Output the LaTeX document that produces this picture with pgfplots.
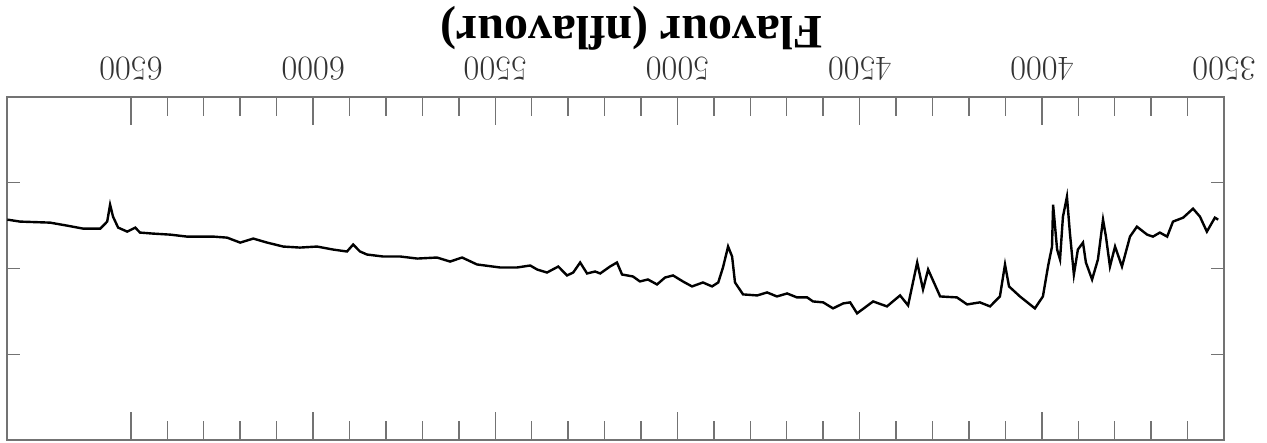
\documentclass[border=0pt]{standalone}
\usepackage{fontspec}
\newfontfamily\titlefont{Liberation Serif}
\usepackage{pgfplots}
\pgfplotsset{compat=1.18}
\begin{document}
\begin{tikzpicture}
\begin{axis}[
  scale only axis,
  width=608.5pt, height=171.5pt,
  xmin=3500, xmax=6840, ymin=0, ymax=4,
  x dir=reverse, y dir=reverse,
  xtick={3500,4000,4500,5000,5500,6000,6500},
  minor x tick num=4,
  ytick=\empty,
  extra y ticks={1,2,3}, extra y tick labels={},
  extra y tick style={major tick length=6.5pt},
  tick align=inside,
  major tick length=14pt, minor tick length=9.5pt,
  xticklabel pos=right,
  axis line style={black!55, line width=0.7pt},
  every tick/.style={black!55, line width=0.7pt},
  xticklabel style={yshift=5pt, rotate=180, anchor=north, text=black!80,
    font=\fontsize{19}{22}\selectfont},
  /pgf/number format/1000 sep={},
  xlabel={\titlefont\bfseries Flavour (nflavour)},
  xlabel style={yshift=-3pt, xshift=8pt, rotate=180, anchor=north,
    font=\fontsize{24}{27}\selectfont},
  clip=false,
]
\addplot[black, line width=1.2pt] coordinates {
(6839,1.430) (6804,1.453) (6722,1.465) (6675,1.500) (6631,1.535) (6584,1.535)
(6565,1.453) (6557,1.256) (6549,1.395) (6535,1.523) (6510,1.570) (6488,1.523)
(6475,1.581) (6439,1.593) (6392,1.605) (6346,1.628) (6274,1.628) (6236,1.640)
(6200,1.698) (6164,1.651) (6126,1.698) (6082,1.744) (6036,1.756) (5989,1.744)
(5945,1.779) (5907,1.802) (5890,1.721) (5871,1.802) (5852,1.837) (5808,1.860)
(5761,1.860) (5714,1.884) (5660,1.872) (5624,1.919) (5591,1.872) (5550,1.953)
(5487,1.988) (5440,1.988) (5404,1.965) (5385,2.012) (5358,2.047) (5327,1.977)
(5303,2.081) (5286,2.047) (5267,1.930) (5248,2.058) (5226,2.035) (5212,2.058)
(5185,1.977) (5166,1.930) (5152,2.070) (5122,2.093) (5103,2.151) (5081,2.128)
(5056,2.186) (5034,2.105) (5012,2.081) (4985,2.151) (4960,2.209) (4930,2.163)
(4905,2.209) (4888,2.163) (4875,1.988) (4861,1.744) (4850,1.860) (4842,2.163)
(4820,2.302) (4781,2.314) (4754,2.279) (4727,2.326) (4699,2.291) (4672,2.337)
(4644,2.337) (4628,2.384) (4600,2.395) (4573,2.465) (4545,2.407) (4526,2.395)
(4507,2.523) (4463,2.384) (4425,2.442) (4389,2.314) (4367,2.430) (4342,1.930)
(4326,2.244) (4312,2.012) (4279,2.326) (4233,2.337) (4205,2.419) (4170,2.395)
(4142,2.442) (4115,2.326) (4101,1.953) (4090,2.209) (4060,2.326) (4019,2.465)
(3997,2.326) (3983,1.977) (3972,1.744) (3969,1.256) (3958,1.779) (3950,1.895)
(3942,1.395) (3931,1.163) (3923,1.581) (3912,2.070) (3901,1.779) (3887,1.698)
(3879,1.930) (3862,2.128) (3846,1.895) (3832,1.430) (3824,1.628) (3813,1.977)
(3799,1.744) (3780,1.977) (3758,1.628) (3739,1.512) (3711,1.605) (3695,1.628)
(3676,1.581) (3656,1.628) (3640,1.453) (3612,1.407) (3585,1.302) (3566,1.395)
(3547,1.570) (3525,1.407) (3516,1.430)
};
\coordinate (BL) at (axis cs:6840,4);
\coordinate (TR) at (axis cs:3500,0);
\end{axis}
\pgfresetboundingbox
\path[use as bounding box] ([shift={(-3.5pt,-1.5pt)}]BL) rectangle ([shift={(21.5pt,48.5pt)}]TR);
\end{tikzpicture}
\end{document}
